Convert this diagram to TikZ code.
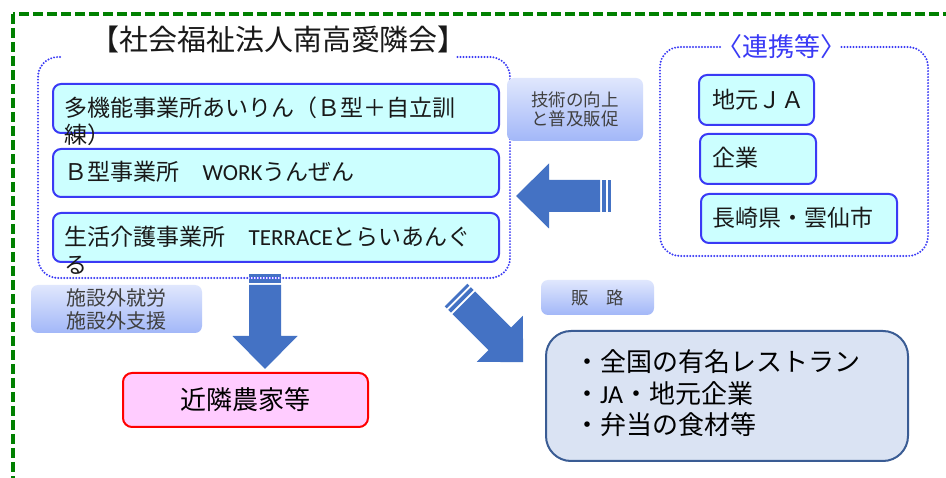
\documentclass[tikz,border=0pt]{standalone}
\usepackage{fontspec}
\setmainfont{Noto Sans CJK JP}
\newfontfamily\lat{Carlito}
\definecolor{framegreen}{HTML}{008000}
\definecolor{dotblue}{HTML}{3A3AF5}
\definecolor{cyanfill}{HTML}{CCFFFF}
\definecolor{arrowblue}{HTML}{4472C4}
\definecolor{labtop}{HTML}{E0E7FD}
\definecolor{labbot}{HTML}{A2B7F8}
\definecolor{labtext}{HTML}{404040}
\definecolor{pinkfill}{HTML}{FFCCFF}
\definecolor{destfill}{HTML}{DAE3F3}
\definecolor{destline}{HTML}{3A5C94}
\tikzset{
  greenframe/.style={draw=framegreen, line width=3.2pt, dash pattern=on 10pt off 4pt},
  dotframe/.style={draw=dotblue, line width=2.2pt, dash pattern=on 0pt off 3pt, line cap=round, rounded corners=20pt},
  cyanbox/.style={draw=dotblue, line width=2pt, fill=cyanfill, rounded corners=8pt, inner sep=0pt},
  labelbox/.style={top color=labtop, bottom color=labbot, rounded corners=7pt, inner sep=0pt, text=labtext, align=center},
  boxtext/.style={anchor=base west, inner sep=0pt, font=\fontsize{23}{27}\selectfont, text=black!90},
  blockarr/.pic={
    \fill[arrowblue] (0,-16) rectangle (3,16);
    \fill[arrowblue] (5,-16) rectangle (9,16);
    \fill[arrowblue] (11,-16) -- (62,-16) -- (62,-32.5) -- (95,0) -- (62,32.5) -- (62,16) -- (11,16) -- cycle;
  }
}
\begin{document}
\begin{tikzpicture}[x=1pt,y=-1pt]
\useasboundingbox (0,0) rectangle (946,478);
\clip (0,0) rectangle (946,478);
\fill[white] (0,0) rectangle (946,478);
% outer green frame
\draw[greenframe] (13,14) rectangle (962,494);
% title
\node[anchor=base, inner sep=0pt, font=\fontsize{29}{29}\selectfont, text=black!90] (title) at (278.5,51) {【社会福祉法人南高愛隣会】};
% left dotted frame
\draw[dotframe] (60,57) -- (38,57) -- (38,278) -- (510,278) -- (510,57) -- (455,57);
% boxes left
\node[cyanbox, minimum width=446pt, minimum height=49pt] (b1) at (276,108.5) {};
\node[cyanbox, minimum width=446pt, minimum height=48pt] (b2) at (276,173) {};
\node[cyanbox, minimum width=446pt, minimum height=49pt] (b3) at (276,237.5) {};
\node[boxtext] (t1a) at (64.5,116.4) {多機能事業所あいりん（Ｂ型＋自立訓};
\node[boxtext] (t1b) at (64.5,143.4) {練）};
\node[boxtext] (t2) at (64.5,181) {Ｂ型事業所　{\lat WORK}うんぜん};
\node[boxtext] (t3a) at (64.5,245.8) {生活介護事業所　{\lat TERRACE}とらいあんぐ};
\node[boxtext] (t3b) at (64.5,273.4) {る};
% right dotted frame
\draw[dotframe] (720,47) -- (660,47) -- (660,256) -- (928,256) -- (928,47) -- (840,47);
\node[anchor=base west, inner sep=0pt, font=\fontsize{26}{26}\selectfont, text=dotblue] (renkei) at (716,56.9) {〈連携等〉};
\node[cyanbox, minimum width=115pt, minimum height=50pt] (r1) at (756.5,100) {};
\node[cyanbox, minimum width=116pt, minimum height=50pt] (r2) at (758,159) {};
\node[cyanbox, minimum width=196pt, minimum height=49pt] (r3) at (799,218.5) {};
\node[boxtext] (rt1) at (712,108.6) {地元ＪＡ};
\node[boxtext] (rt2) at (712,167) {企業};
\node[boxtext] (rt3) at (712,227) {長崎県・雲仙市};
% labels
\node[labelbox, minimum width=136pt, minimum height=63pt, font=\fontsize{17.5}{18.3}\selectfont] (lab1) at (575,109.5) {技術の向上\\と普及販促};
\node[labelbox, minimum width=171pt, minimum height=48pt, font=\fontsize{20}{23}\selectfont] (lab2) at (116.5,309) {施設外就労\\施設外支援};
\node[labelbox, minimum width=113pt, minimum height=35pt, font=\fontsize{17.5}{17.5}\selectfont] (lab3) at (597.5,297.5) {販　路};
% arrows
\pic[rotate=180] at (611,196) {blockarr};
\pic[rotate=-90] at (265,274) {blockarr};
\pic[rotate=-45] at (456,295) {blockarr};
% targets
\node[draw=red, line width=2pt, fill=pinkfill, rounded corners=9pt, minimum width=245pt, minimum height=54pt, font=\fontsize{26}{26}\selectfont] (farm) at (245.5,400) {近隣農家等};
\node[draw=destline, line width=2pt, fill=destfill, rounded corners=25pt, minimum width=362pt, minimum height=130pt] (dest) at (727,396) {};
\node[anchor=west, inner sep=0pt, align=left, font=\fontsize{26}{31.5}\selectfont] (destt) at (574,393.6) {・全国の有名レストラン\\・{\lat JA}・地元企業\\・弁当の食材等};
\end{tikzpicture}
\end{document}
